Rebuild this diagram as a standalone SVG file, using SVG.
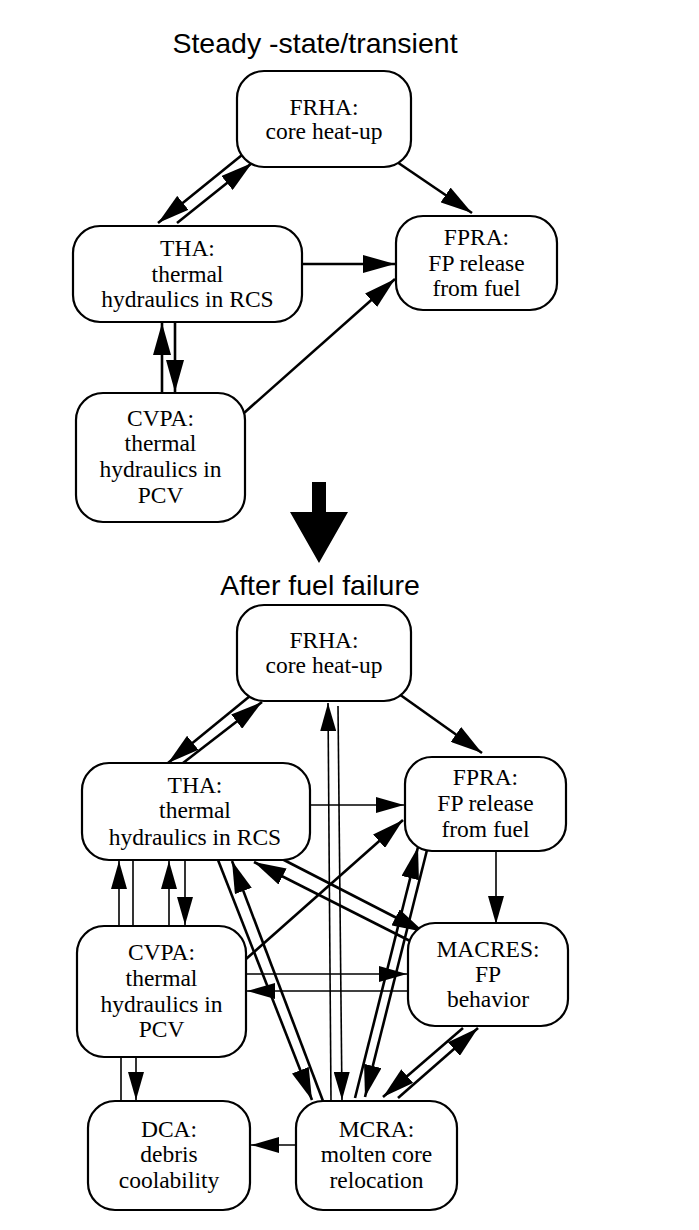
<svg xmlns="http://www.w3.org/2000/svg" width="699" height="1230" viewBox="0 0 699 1230">
<defs>
<marker id="ah" markerUnits="userSpaceOnUse" markerWidth="30" markerHeight="16" refX="28" refY="8" orient="auto" viewBox="0 0 30 16">
<path d="M0,0 L28,8 L0,16 Z" fill="#000"/>
</marker>
<marker id="ahb" markerUnits="userSpaceOnUse" markerWidth="34" markerHeight="18" refX="32" refY="9" orient="auto" viewBox="0 0 34 18">
<path d="M0,0 L32,9 L0,18 Z" fill="#000"/>
</marker>
<style>
.box{fill:#fff;stroke:#000;stroke-width:2.2}
.lbl{font-family:"Liberation Serif","Times New Roman",serif;font-size:23.5px;text-anchor:middle;fill:#000}
.ttl{font-family:"Liberation Sans",Arial,sans-serif;font-size:28.5px;text-anchor:middle;fill:#000}
.c{stroke:#000;stroke-width:2.6;fill:none;marker-end:url(#ahb)}
.t{stroke:#000;stroke-width:1.6;fill:none}
.a{marker-end:url(#ah)}
</style>
</defs>
<rect width="699" height="1230" fill="#fff"/>

<text class="ttl" x="315" y="53">Steady -state/transient</text>
<text class="ttl" x="320" y="595">After fuel failure</text>

<g id="connectors">
<!-- top diagram -->
<line class="c" x1="242" y1="155" x2="158" y2="223"/>
<line class="c" x1="177" y1="223" x2="252" y2="163"/>
<line class="c" x1="397" y1="162" x2="472" y2="213"/>
<line class="c" x1="303" y1="264" x2="395" y2="264"/>
<line class="c" x1="244" y1="413" x2="395" y2="279"/>
<line class="c" x1="162" y1="392" x2="162" y2="323"/>
<line class="c" x1="175" y1="323" x2="175" y2="392"/>
<!-- bottom diagram -->
<line class="c" x1="250" y1="696" x2="168" y2="763"/>
<line class="c" x1="183" y1="763" x2="262" y2="702"/>
<line class="c" x1="399" y1="694" x2="482" y2="753"/>
<line class="t a" x1="310" y1="805" x2="404" y2="805"/>
<line class="t a" x1="331" y1="1101" x2="328" y2="703"/>
<line class="t a" x1="338" y1="706" x2="342" y2="1100"/>
<line class="c" x1="246" y1="959" x2="403" y2="820"/>
<line class="c" x1="218" y1="860" x2="312" y2="1100"/>
<line class="c" x1="323" y1="1101" x2="232" y2="861"/>
<line class="c" x1="282" y1="859" x2="424" y2="932"/>
<line class="c" x1="414" y1="943" x2="254" y2="862"/>
<line class="t a" x1="246" y1="974" x2="407" y2="974"/>
<line class="t a" x1="408" y1="991" x2="247" y2="991"/>
<line class="t a" x1="496" y1="851" x2="496" y2="924"/>
<line class="c" x1="427" y1="850" x2="365" y2="1097"/>
<line class="c" x1="355" y1="1098" x2="418" y2="847"/>
<line class="c" x1="463" y1="1028" x2="383" y2="1097"/>
<line class="c" x1="398" y1="1098" x2="478" y2="1028"/>
<line class="t a" x1="296" y1="1145" x2="251" y2="1145"/>
<line class="t a" x1="119" y1="926" x2="119" y2="861"/>
<line class="t" x1="133" y1="860" x2="133" y2="926"/>
<line class="t a" x1="169" y1="926" x2="169" y2="861"/>
<line class="t a" x1="185" y1="860" x2="185" y2="925"/>
<line class="t" x1="121" y1="1057" x2="121" y2="1101"/>
<line class="t a" x1="136" y1="1057" x2="136" y2="1100"/>
</g>

<g id="big-arrow">
<polygon points="312,482 326,482 326,512 348,512 319,563 290,512 312,512" fill="#000"/>
</g>

<g id="FRHA-1">
<rect class="box" x="237" y="71" width="174" height="96" rx="27"/>
<text class="lbl" x="324" y="115">FRHA:</text>
<text class="lbl" x="324" y="139">core heat-up</text>
</g>
<g id="THA-1">
<rect class="box" x="73" y="226" width="229" height="96" rx="27"/>
<text class="lbl" x="187.5" y="256">THA:</text>
<text class="lbl" x="187.5" y="282">thermal</text>
<text class="lbl" x="187.5" y="307">hydraulics in RCS</text>
</g>
<g id="FPRA-1">
<rect class="box" x="396" y="216" width="161" height="94" rx="27"/>
<text class="lbl" x="476.5" y="245">FPRA:</text>
<text class="lbl" x="476.5" y="271">FP release</text>
<text class="lbl" x="476.5" y="296">from fuel</text>
</g>
<g id="CVPA-1">
<rect class="box" x="76" y="393" width="169" height="129" rx="27"/>
<text class="lbl" x="160.5" y="426">CVPA:</text>
<text class="lbl" x="160.5" y="451">thermal</text>
<text class="lbl" x="160.5" y="477">hydraulics in</text>
<text class="lbl" x="160.5" y="503">PCV</text>
</g>

<g id="FRHA-2">
<rect class="box" x="237" y="605" width="174" height="96" rx="27"/>
<text class="lbl" x="324" y="648">FRHA:</text>
<text class="lbl" x="324" y="673">core heat-up</text>
</g>
<g id="THA-2">
<rect class="box" x="82" y="763" width="228" height="97" rx="27"/>
<text class="lbl" x="195" y="793">THA:</text>
<text class="lbl" x="195" y="818">thermal</text>
<text class="lbl" x="195" y="845">hydraulics in RCS</text>
</g>
<g id="FPRA-2">
<rect class="box" x="405" y="757" width="161" height="94" rx="27"/>
<text class="lbl" x="485.5" y="785">FPRA:</text>
<text class="lbl" x="485.5" y="811">FP release</text>
<text class="lbl" x="485.5" y="837">from fuel</text>
</g>
<g id="CVPA-2">
<rect class="box" x="77" y="926" width="169" height="131" rx="27"/>
<text class="lbl" x="161.5" y="960">CVPA:</text>
<text class="lbl" x="161.5" y="986">thermal</text>
<text class="lbl" x="161.5" y="1012">hydraulics in</text>
<text class="lbl" x="161.5" y="1037">PCV</text>
</g>
<g id="MACRES">
<rect class="box" x="408" y="923" width="160" height="103" rx="27"/>
<text class="lbl" x="488" y="957">MACRES:</text>
<text class="lbl" x="488" y="982">FP</text>
<text class="lbl" x="488" y="1007">behavior</text>
</g>
<g id="DCA">
<rect class="box" x="88" y="1101" width="162" height="109" rx="27"/>
<text class="lbl" x="169" y="1137">DCA:</text>
<text class="lbl" x="169" y="1162">debris</text>
<text class="lbl" x="169" y="1188">coolability</text>
</g>
<g id="MCRA">
<rect class="box" x="296" y="1101" width="161" height="109" rx="27"/>
<text class="lbl" x="376.5" y="1137">MCRA:</text>
<text class="lbl" x="376.5" y="1162">molten core</text>
<text class="lbl" x="376.5" y="1188">relocation</text>
</g>
</svg>
